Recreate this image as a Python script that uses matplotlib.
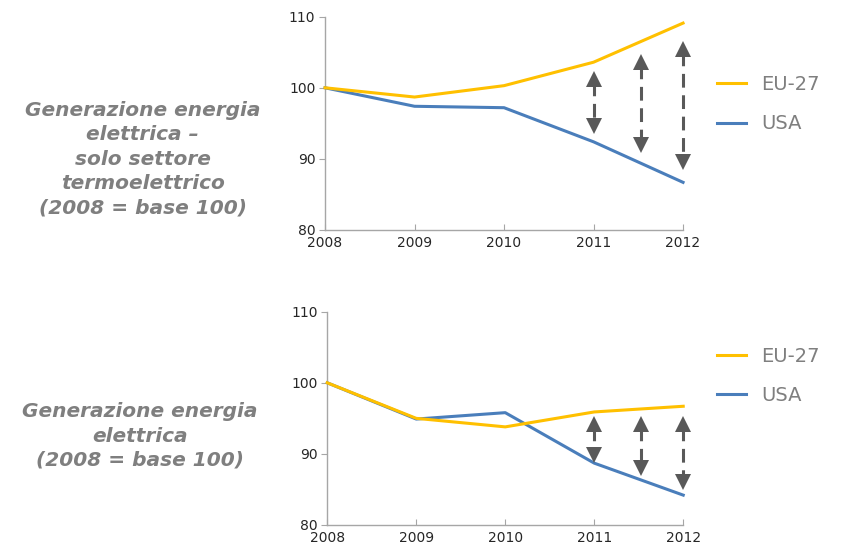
import matplotlib
matplotlib.use("Agg")
import matplotlib.pyplot as plt

years = [2008, 2009, 2010, 2011, 2012]

# top panel: thermoelectric sector only (2008 = 100)
eu_thermo = [100.0, 98.7, 100.3, 103.6, 109.1]
usa_thermo = [100.0, 97.4, 97.2, 92.4, 86.7]

# bottom panel: total electricity generation (2008 = 100)
eu_total = [100.0, 95.0, 93.8, 95.9, 96.7]
usa_total = [100.0, 94.9, 95.8, 88.7, 84.2]

# double arrows highlighting the gap: x, upper tip, lower tip
arrow_x = [2011, 2011.53, 2012]
thermo_arrow_top = [102.0, 104.4, 106.3]
thermo_arrow_bot = [93.8, 91.2, 88.7]
total_arrow_top = [95.0, 95.0, 95.0]
total_arrow_bot = [89.0, 87.2, 85.3]

series_names = ["EU-27", "USA"]
panel_titles = [
    "Generazione energia\nelettrica \u2013\nsolo settore\ntermoelettrico\n(2008 = base 100)",
    "Generazione energia\nelettrica\n(2008 = base 100)",
]

YELLOW = "#FFC000"
BLUE = "#4A7EBB"
ARROW = "#595959"
GREY_TXT = "#7F7F7F"

fig = plt.figure(figsize=(8.5, 5.51), dpi=100)
ax_top = fig.add_axes([0.3824, 0.5826, 0.4212, 0.3871])
ax_bot = fig.add_axes([0.3850, 0.0472, 0.4188, 0.3871])


def draw_panel(ax, eu, usa, a_top, a_bot):
    ax.plot(years, usa, color=BLUE, lw=2.2, clip_on=False, label=series_names[1], zorder=3)
    ax.plot(years, eu, color=YELLOW, lw=2.2, clip_on=False, label=series_names[0], zorder=4)
    for x, yt, yb in zip(arrow_x, a_top, a_bot):
        ax.plot([x, x], [yt - 1.2, yb + 1.2], color=ARROW, lw=2.2,
                dashes=(4.5, 2.5), clip_on=False, zorder=5)
        ax.plot([x], [yt - 0.8], marker="^", ms=11, color=ARROW, mew=0,
                clip_on=False, zorder=5)
        ax.plot([x], [yb + 0.8], marker="v", ms=11, color=ARROW, mew=0,
                clip_on=False, zorder=5)
    ax.set_xlim(2008, 2012)
    ax.set_ylim(80, 110)
    ax.set_xticks(years)
    ax.set_yticks([80, 90, 100, 110])
    for side in ["top", "right"]:
        ax.spines[side].set_visible(False)
    for side in ["left", "bottom"]:
        ax.spines[side].set_color("#A6A6A6")
        ax.spines[side].set_linewidth(1.0)
    ax.tick_params(axis="x", direction="in", length=4, color="#A6A6A6",
                   labelsize=10, labelcolor="#262626", pad=4)
    ax.tick_params(axis="y", direction="out", length=4, color="#A6A6A6",
                   labelsize=10, labelcolor="#262626", pad=3)
    ax.patch.set_alpha(0)


draw_panel(ax_top, eu_thermo, usa_thermo, thermo_arrow_top, thermo_arrow_bot)
draw_panel(ax_bot, eu_total, usa_total, total_arrow_top, total_arrow_bot)

for ax, yc in [(ax_top, 0.811), (ax_bot, 0.318)]:
    handles, labels = ax.get_legend_handles_labels()
    order = [labels.index(n) for n in series_names]
    leg = fig.legend([handles[i] for i in order], [labels[i] for i in order],
                     loc="center left", bbox_to_anchor=(0.823, yc), frameon=False,
                     fontsize=14, handlelength=1.5, handletextpad=0.75,
                     labelspacing=1.05)
    for t in leg.get_texts():
        t.set_color(GREY_TXT)

fig.text(0.168, 0.7114, panel_titles[0], ha="center", va="center",
         fontsize=14.5, fontweight="bold", fontstyle="italic", color=GREY_TXT,
         linespacing=1.35)
fig.text(0.165, 0.2087, panel_titles[1], ha="center", va="center",
         fontsize=14.5, fontweight="bold", fontstyle="italic", color=GREY_TXT,
         linespacing=1.35)

fig.savefig("out.png", dpi=100)
